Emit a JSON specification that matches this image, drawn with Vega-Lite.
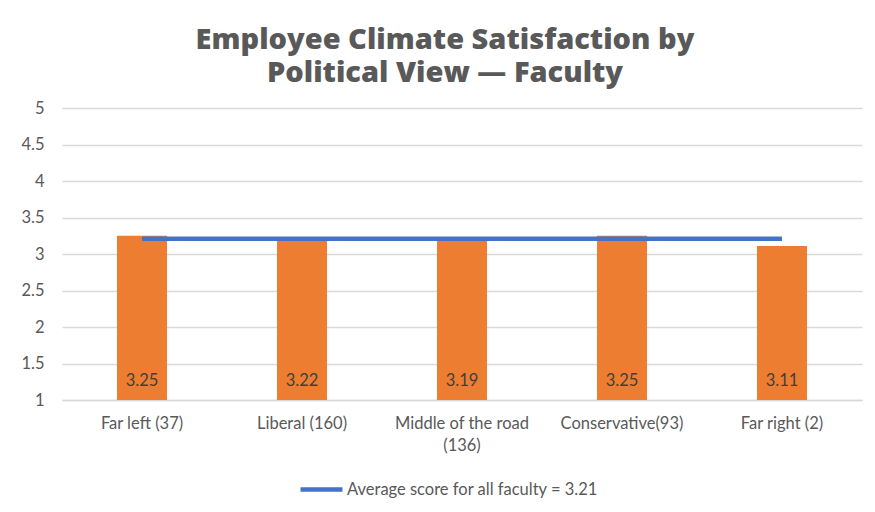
{
  "$schema": "https://vega.github.io/schema/vega-lite/v6.json",
  "width": 800,
  "height": 292,
  "autosize": {"type": "none"},
  "padding": {"left": 62, "top": 108, "right": 13, "bottom": 112},
  "background": "white",
  "config": {"view": {"stroke": null}},
  "title": {
    "text": ["Employee Climate Satisfaction by", "Political View — Faculty"],
    "font": "Open Sans",
    "fontSize": 29,
    "fontWeight": 800,
    "color": "#595959",
    "lineHeight": 33,
    "anchor": "middle",
    "dx": -17,
    "offset": 12
  },
  "datasets": {
    "bars": [
      {"view": "Far left (37)", "score": 3.25},
      {"view": "Liberal (160)", "score": 3.22},
      {"view": "Middle of the road (136)", "score": 3.19},
      {"view": "Conservative(93)", "score": 3.25},
      {"view": "Far right (2)", "score": 3.11}
    ],
    "avg": [
      {"from": "Far left (37)", "to": "Far right (2)", "avg": 3.21, "series": "Average score for all faculty = 3.21"}
    ]
  },
  "encoding": {
    "y": {
      "type": "quantitative", "title": null,
      "scale": {"domain": [1, 5], "zero": false, "nice": false},
      "axis": {
        "values": [1, 1.5, 2, 2.5, 3, 3.5, 4, 4.5, 5],
        "format": "~g",
        "labelOverlap": false,
        "labelFont": "Lato",
        "labelFontSize": 16.5,
        "labelColor": "#595959",
        "labelPadding": 18,
        "domain": false,
        "ticks": false,
        "gridColor": "#d9d9d9",
        "gridWidth": 1.5
      }
    }
  },
  "layer": [
    {
      "data": {"name": "bars"},
      "mark": {"type": "bar", "color": "#ED7D31", "width": 50},
      "encoding": {
        "x": {
          "field": "view", "type": "nominal", "title": null,
          "scale": {"domain": ["Far left (37)", "Liberal (160)", "Middle of the road (136)", "Conservative(93)", "Far right (2)"], "paddingInner": 0, "paddingOuter": 0},
          "axis": {
            "labelAngle": 0,
            "labelFont": "Lato",
            "labelFontSize": 16.5,
            "labelColor": "#595959",
            "labelPadding": 15,
            "labelLineHeight": 22,
            "labelBaseline": "top",
            "labelOverlap": false,
            "labelLimit": 0,
            "domain": true,
            "domainColor": "#d9d9d9",
            "domainWidth": 1.5,
            "ticks": false,
            "grid": false,
            "labelExpr": "datum.value == 'Middle of the road (136)' ? ['Middle of the road', '(136)'] : datum.label"
          }
        },
        "y": {"field": "score"},
        "y2": {"datum": 1}
      }
    },
    {
      "data": {"name": "bars"},
      "mark": {"type": "text", "font": "Lato", "fontSize": 16.5, "color": "#404040", "baseline": "middle", "dy": -19},
      "encoding": {
        "x": {"field": "view", "type": "nominal"},
        "y": {"datum": 1},
        "text": {"field": "score", "type": "quantitative", "format": ".2f"}
      }
    },
    {
      "data": {"name": "avg"},
      "mark": {"type": "rule", "strokeWidth": 4.5},
      "encoding": {
        "x": {"field": "from", "type": "nominal", "bandPosition": 0.5},
        "x2": {"field": "to"},
        "y": {"field": "avg"},
        "color": {
          "field": "series", "type": "nominal",
          "scale": {"range": ["#4472C4"]},
          "legend": {
            "title": null,
            "orient": "none",
            "legendX": 236,
            "legendY": 358,
            "symbolType": "stroke",
            "symbolSize": 1764,
            "symbolStrokeWidth": 4.5,
            "labelFont": "Lato",
            "labelFontSize": 16.5,
            "labelColor": "#595959",
            "labelOffset": 2,
            "labelLimit": 0
          }
        }
      }
    }
  ]
}
